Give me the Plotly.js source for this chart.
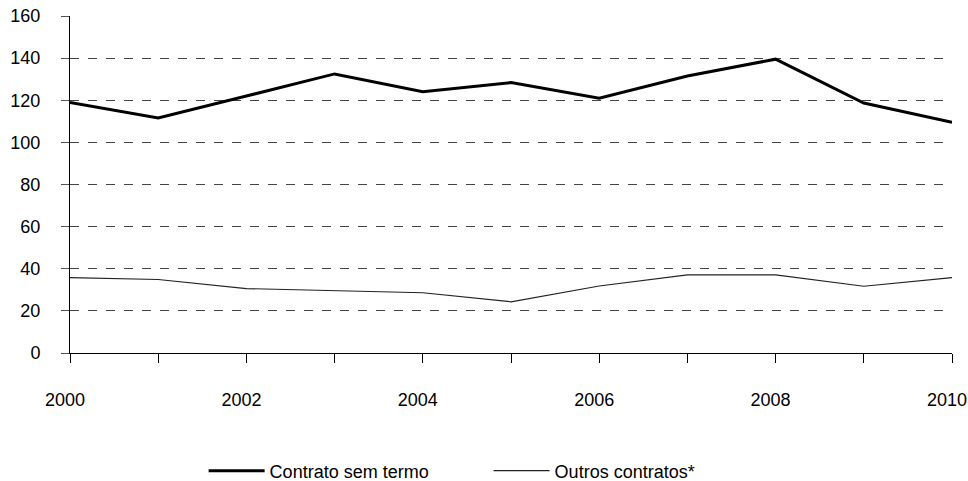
<!DOCTYPE html>
<html><head><meta charset="utf-8">
<script src="https://cdn.plot.ly/plotly-3.0.1.min.js"></script>
<style>body{margin:0;background:#fff}#c{width:968px;height:481px}</style>
</head><body><div id="c"></div>
<script>
const years = [2000,2001,2002,2003,2004,2005,2006,2007,2008,2009,2010];
const semTermo = [119,111.6,122,132.5,124,128.4,121,131.5,139.5,118.7,109.5];
const outros = [35.8,34.9,30.6,29.6,28.6,24.3,31.8,37.1,37.1,31.7,35.8];
const xTickText = ['2000','','2002','','2004','','2006','','2008','','2010'];
const yTicks = [0,20,40,60,80,100,120,140,160];

const font = {family:'Liberation Sans, Arial, sans-serif', size:18, color:'#000'};
const traces = [
  {x:years, y:semTermo, type:'scatter', mode:'lines', name:'Contrato sem termo',
   line:{color:'#000', width:3}},
  {x:years, y:outros, type:'scatter', mode:'lines', name:'Outros contratos*',
   line:{color:'#222', width:1.2}}
];
const layout = {
  width:968, height:481,
  margin:{l:70, r:16, t:16, b:128, autoexpand:false},
  paper_bgcolor:'#fff', plot_bgcolor:'#fff',
  font:font,
  showlegend:true,
  legend:{orientation:'h', x:0.1515, xanchor:'left', y:-0.35, yanchor:'middle',
    font:font, itemwidth:56, entrywidth:214, traceorder:'normal'},
  xaxis:{range:[2000,2010], tickvals:years, ticktext:xTickText, automargin:false,
    showgrid:false, zeroline:false, showline:true, linecolor:'#000', linewidth:1,
    ticks:'outside', ticklen:9, tickcolor:'#000', ticklabelstandoff:21,
    ticklabelshift:-5, ticklabeloverflow:'allow', tickfont:font, fixedrange:true},
  yaxis:{range:[0,160], tickvals:yTicks, showgrid:true, gridcolor:'#444', automargin:false,
    griddash:'dash', gridwidth:1, zeroline:false, showline:true, linecolor:'#000',
    linewidth:1, ticks:'outside', ticklen:8, tickcolor:'#555',
    ticklabelstandoff:17, tickfont:font, fixedrange:true}
};
Plotly.newPlot('c', traces, layout, {staticPlot:true});
</script></body></html>
